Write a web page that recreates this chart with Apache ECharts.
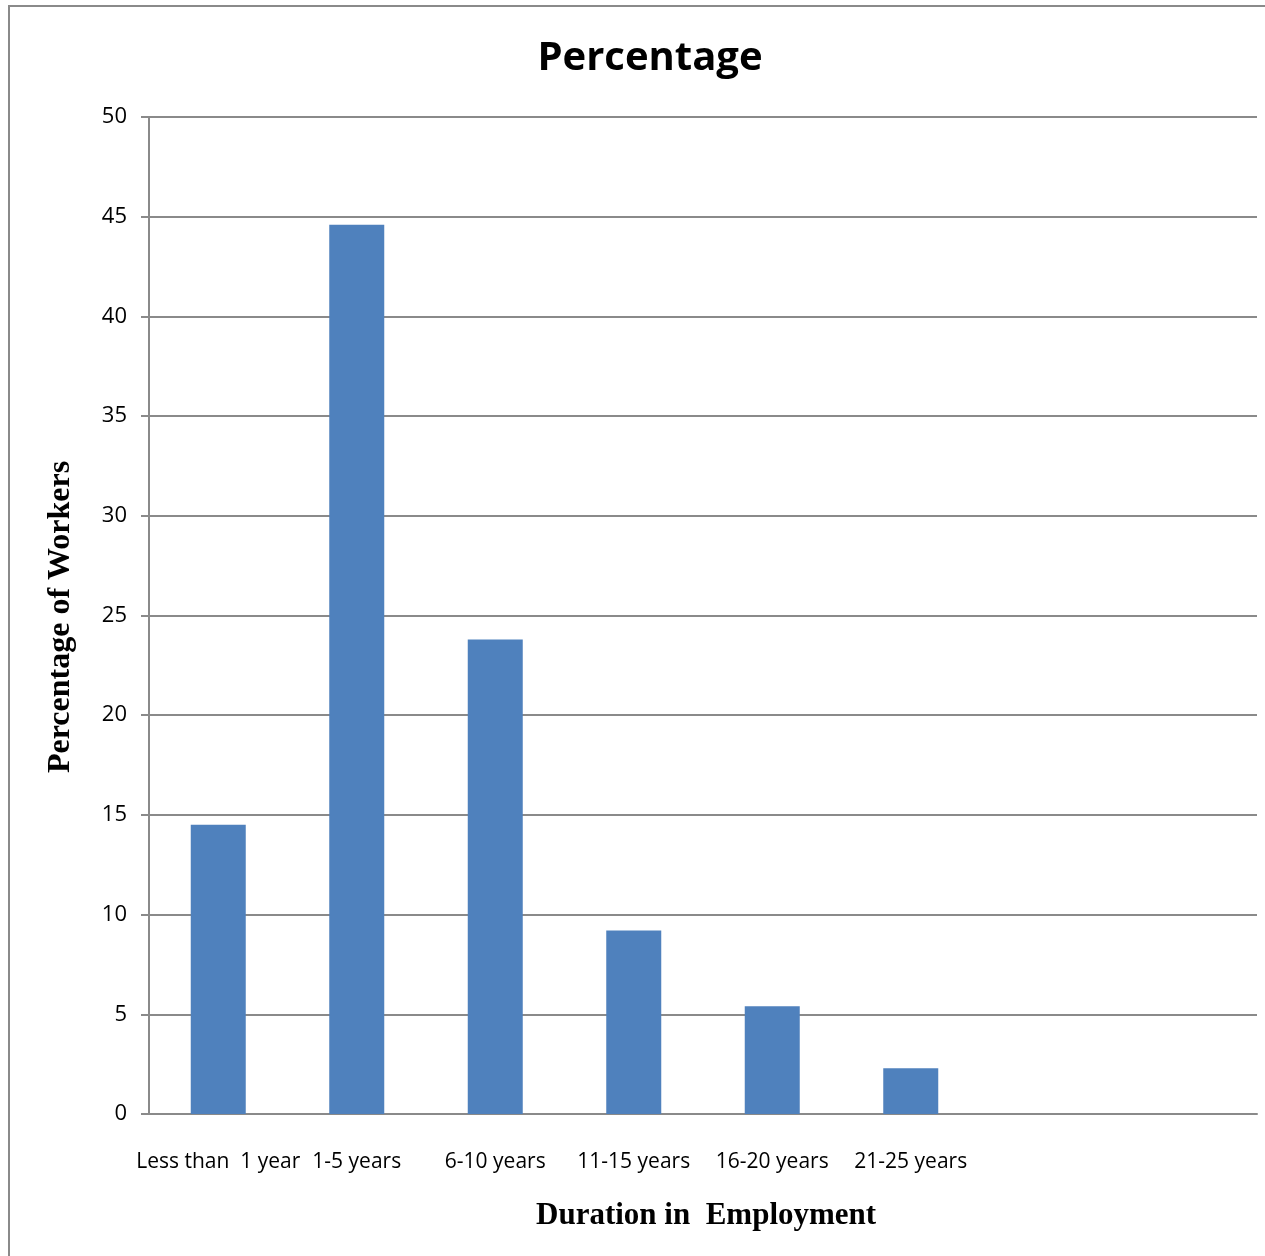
<!DOCTYPE html>
<html>
<head>
<meta charset="utf-8">
<title>Percentage</title>
<script src="https://cdn.jsdelivr.net/npm/echarts@6/dist/echarts.min.js"></script>
<style>
  html, body { margin: 0; padding: 0; background: #fff; }
  #chart { width: 1265px; height: 1256px; }
</style>
</head>
<body>
<div id="chart"></div>
<script>
// Duration groups on the category axis (two trailing slots stay empty)
const categories = ['Less than  1 year', '1-5 years', '6-10 years', '11-15 years', '16-20 years', '21-25 years', '', ''];
// Share of workers per duration group (%)
const percentages = [14.5, 44.6, 23.8, 9.2, 5.4, 2.3, null, null];
// Value axis range and step
const yMin = 0, yMax = 50, yStep = 5;

const gray = '#8a8a8a';
const chart = echarts.init(document.getElementById('chart'), null, { renderer: 'canvas' });

chart.setOption({
  backgroundColor: '#fff',
  animation: false,
  title: {
    text: 'Percentage',
    left: 645,
    textAlign: 'center',
    top: 34,
    textStyle: { fontFamily: 'Open Sans', fontWeight: 'bold', fontSize: 40, color: '#000' }
  },
  graphic: [{
    type: 'rect',
    shape: { x: 9, y: 6, width: 1300, height: 1300 },
    style: { fill: 'none', stroke: gray, lineWidth: 2 },
    silent: true,
    z: 0
  }, {
    type: 'text',
    left: 536, top: 1200,
    style: { text: 'Duration in  Employment', fontFamily: 'Liberation Serif', fontWeight: 'bold', fontSize: 31, fill: '#000' }
  }, {
    type: 'text',
    rotation: Math.PI / 2,
    x: 45, y: 773,
    style: { text: 'Percentage of Workers', fontFamily: 'Liberation Serif', fontWeight: 'bold', fontSize: 32, fill: '#000' }
  }],
  grid: { left: 149, right: 8, top: 117, bottom: 142, containLabel: false },
  xAxis: {
    type: 'category',
    data: categories,
    axisLine: { show: true, lineStyle: { color: gray, width: 2 } },
    axisTick: { show: false },
    axisLabel: { interval: 0, margin: 38, fontFamily: 'Open Sans', fontSize: 21, color: '#000' }
  },
  yAxis: {
    type: 'value',
    min: yMin, max: yMax, interval: yStep,
    axisLine: { show: true, lineStyle: { color: gray, width: 2 } },
    axisTick: { show: true, length: 8, lineStyle: { color: gray, width: 2 } },
    axisLabel: { margin: 22, padding: [4, 0, 0, 0], fontFamily: 'Open Sans', fontSize: 22, color: '#000' },
    splitLine: { show: true, lineStyle: { color: gray, width: 2 } }
  },
  series: [{
    type: 'bar',
    data: percentages,
    barWidth: 55,
    itemStyle: { color: '#4f81bd' }
  }]
});
</script>
</body>
</html>
